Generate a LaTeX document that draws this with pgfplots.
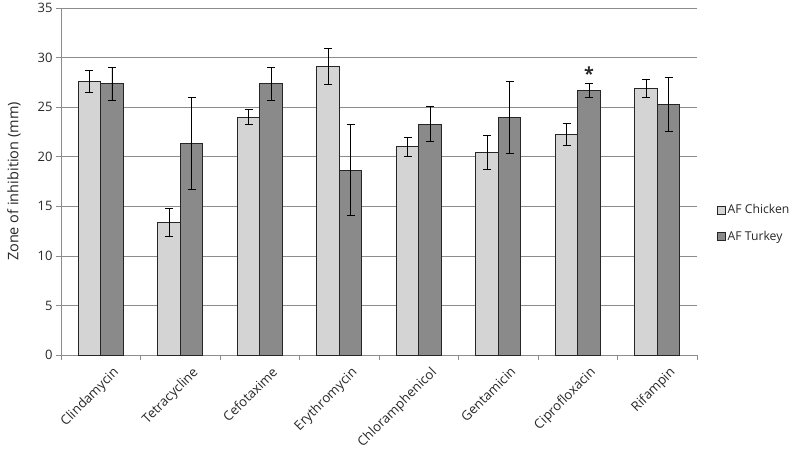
\documentclass[border=0pt]{standalone}
\usepackage{fontspec}
\setmainfont{Open Sans}
\usepackage{pgfplots}
\usepackage{pgfplotstable}
\pgfplotsset{compat=1.18}
\definecolor{lightbar}{RGB}{212,212,212}
\definecolor{darkbar}{RGB}{138,138,138}
\definecolor{gridc}{RGB}{140,140,140}
\definecolor{txt}{RGB}{40,40,40}

\pgfplotstableread{
x y e
0 27.6 1.1
1 13.4 1.4
2 24.0 0.75
3 29.1 1.8
4 21.0 0.95
5 20.45 1.75
6 22.25 1.1
7 26.9 0.95
}\chicken
\pgfplotstableread{
x y e
0 27.35 1.7
1 21.35 4.65
2 27.35 1.7
3 18.65 4.6
4 23.3 1.75
5 23.95 3.65
6 26.65 0.7
7 25.3 2.7
}\turkey

\begin{document}
\begin{tikzpicture}
\begin{axis}[
  scale only axis,
  width=636pt, height=347pt,
  ybar=0pt, bar width=22.5pt,
  xmin=-0.5, xmax=7.5,
  ymin=0, ymax=35,
  ytick={0,5,...,35},
  xtick={0,...,7},
  xticklabels={Clindamycin,Tetracycline,Cefotaxime,Erythromycin,Chloramphenicol,Gentamicin,Ciprofloxacin,Rifampin},
  xticklabel style={rotate=45, anchor=north east, font=\fontsize{13.2}{15}\selectfont, text=txt, inner sep=1pt, yshift=-11pt, xshift=5pt},
  yticklabel style={font=\fontsize{13}{15}\selectfont, text=txt},
  xtick style={draw=none},
  extra x ticks={-0.5,0.5,...,7.5},
  extra x tick labels={},
  extra x tick style={xtick style={draw=gridc, line width=0.8pt}, major tick length=5pt, tick align=outside},
  ytick style={draw=gridc, line width=0.8pt},
  major tick length=5pt, tick align=outside,
  axis x line*=bottom, axis y line*=left,
  axis line style={draw=gridc, line width=0.8pt, -},
  ymajorgrids, grid style={draw=gridc, line width=0.8pt},
  /pgf/number format/assume math mode=true,
  ylabel={Zone of inhibition (mm)},
  every axis y label/.style={at={(rel axis cs:0,0.5)}, xshift=-47pt, rotate=90, anchor=center,
    font=\fontsize{14.5}{16}\selectfont, text=txt},
  legend style={draw=none, fill=none, at={(rel axis cs:1,0.38)}, xshift=20pt, anchor=west,
    font=\fontsize{12.2}{14}\selectfont, text=txt, row sep=12pt, inner sep=0pt,
    legend cell align=left},
  legend image code/.code={\draw[#1, line width=0.5pt] (0pt,-4pt) rectangle (8pt,4pt);},
  error bars/error bar style={black, line width=0.9pt},
  error bars/error mark options={rotate=90, mark size=4pt, line width=0.9pt, black},
]
\addplot[fill=lightbar, draw=black!85, line width=0.9pt,
  error bars/.cd, y dir=both, y explicit]
  table[x=x, y=y, y error=e] {\chicken};
\addplot[fill=darkbar, draw=black!85, line width=0.9pt,
  error bars/.cd, y dir=both, y explicit]
  table[x=x, y=y, y error=e] {\turkey};
\legend{AF Chicken, AF Turkey}
\node[font=\fontsize{18}{18}\selectfont\bfseries, text=txt] at (axis cs:6,28.4) [xshift=11.25pt] {*};
\end{axis}
\path (current axis.south west) ++(-61pt,-93pt) rectangle ++(800pt,447pt);
\end{tikzpicture}
\end{document}
